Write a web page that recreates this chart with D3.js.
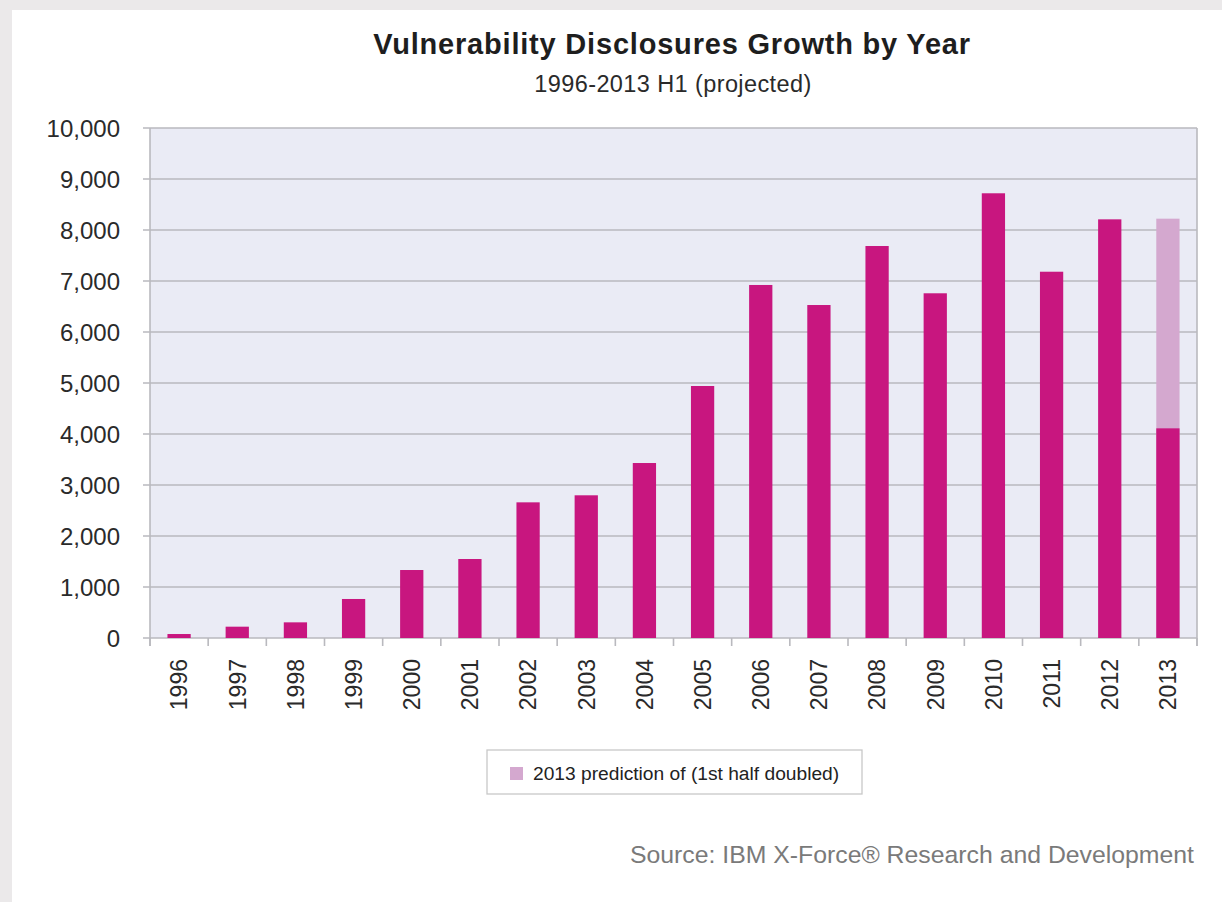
<!DOCTYPE html>
<html>
<head>
<meta charset="utf-8">
<script src="https://cdn.jsdelivr.net/npm/d3@7"></script>
<style>
  html, body { margin: 0; padding: 0; background: #ebe9ea; }
  svg { display: block; }
  text { font-family: "Liberation Sans", Arial, Helvetica, sans-serif; }
</style>
</head>
<body>
<svg id="chart" width="1222" height="902"></svg>
<script>
const years = ["1996","1997","1998","1999","2000","2001","2002","2003","2004","2005","2006","2007","2008","2009","2010","2011","2012","2013"];
const disclosures = [78, 222, 307, 765, 1333, 1549, 2660, 2798, 3431, 4941, 6922, 6529, 7686, 6759, 8720, 7182, 8209, 4111];
const projectedYears = ["2013"];
const projectedValues = [8222];
const yTicks = [0, 1000, 2000, 3000, 4000, 5000, 6000, 7000, 8000, 9000, 10000];
const titleText = "Vulnerability Disclosures Growth by Year";
const subtitleText = "1996-2013 H1 (projected)";
const legendText = "2013 prediction of (1st half doubled)";
const sourceText = "Source: IBM X-Force\u00AE Research and Development";

const svg = d3.select("#chart");
const W = 1222, H = 902;
const margin = { left: 150, right: 25, top: 128, bottom: 264 };
const plotL = margin.left, plotR = W - margin.right, plotT = margin.top, plotB = H - margin.bottom;

const barColor = "#c8167f";
const projColor = "#d4a8cf";
const gridColor = "#b9b9be";

// white panel
svg.append("rect").attr("x", 12).attr("y", 10).attr("width", W - 12).attr("height", H - 10).attr("fill", "#ffffff");

const x = d3.scaleBand().domain(years).range([plotL, plotR]).paddingInner(0.6).paddingOuter(0.3);
const y = d3.scaleLinear().domain([0, 10000]).range([plotB, plotT]);

// plot background
svg.append("rect").attr("x", plotL).attr("y", plotT).attr("width", plotR - plotL).attr("height", plotB - plotT).attr("fill", "#eaebf5");

// gridlines
svg.append("g").selectAll("line").data(yTicks).join("line")
  .attr("x1", plotL - 7).attr("x2", plotR)
  .attr("y1", d => y(d)).attr("y2", d => y(d))
  .attr("stroke", gridColor).attr("stroke-width", 1.6);

// y labels
svg.append("g").selectAll("text").data(yTicks).join("text")
  .attr("x", plotL - 30).attr("y", d => y(d)).attr("dy", "0.36em")
  .attr("text-anchor", "end").attr("font-size", 24).attr("fill", "#2a2a2a")
  .text(d => d3.format(",")(d));

// axis lines
svg.append("line").attr("x1", plotL).attr("x2", plotL).attr("y1", plotT).attr("y2", plotB + 8).attr("stroke", gridColor).attr("stroke-width", 1.6);
svg.append("line").attr("x1", plotR).attr("x2", plotR).attr("y1", plotT).attr("y2", plotB + 8).attr("stroke", gridColor).attr("stroke-width", 1.6);

// x ticks at category boundaries
const step = x.step();
const boundaries = years.map(d => x(d) + x.bandwidth() / 2 - step / 2).concat([x(years[years.length - 1]) + x.bandwidth() / 2 + step / 2]);
svg.append("g").selectAll("line").data(boundaries).join("line")
  .attr("x1", d => d).attr("x2", d => d)
  .attr("y1", plotB).attr("y2", plotB + 8)
  .attr("stroke", gridColor).attr("stroke-width", 1.6);

// projected bars (behind)
svg.append("g").selectAll("rect").data(projectedYears.map((d, i) => ({ year: d, v: projectedValues[i] }))).join("rect")
  .attr("x", d => x(d.year)).attr("width", x.bandwidth())
  .attr("y", d => y(d.v)).attr("height", d => y(0) - y(d.v))
  .attr("fill", projColor);

// bars
svg.append("g").selectAll("rect").data(years.map((d, i) => ({ year: d, v: disclosures[i] }))).join("rect")
  .attr("x", d => x(d.year)).attr("width", x.bandwidth())
  .attr("y", d => y(d.v)).attr("height", d => y(0) - y(d.v))
  .attr("fill", barColor);

// x labels
svg.append("g").selectAll("text").data(years).join("text")
  .attr("transform", d => `translate(${x(d) + x.bandwidth() / 2},${plotB + 21}) rotate(-90)`)
  .attr("dy", "0.36em").attr("text-anchor", "end")
  .attr("font-size", 23).attr("fill", "#2a2a2a")
  .text(d => d);

// title
svg.append("text").attr("x", 672).attr("y", 54).attr("text-anchor", "middle")
  .attr("font-size", 29).attr("font-weight", "bold").attr("fill", "#1e1e1e")
  .attr("letter-spacing", 0.8)
  .text(titleText);
svg.append("text").attr("x", 673).attr("y", 92).attr("text-anchor", "middle")
  .attr("font-size", 23.5).attr("fill", "#2a2a2a").attr("letter-spacing", 0.4)
  .text(subtitleText);

// legend
const lg = svg.append("g");
lg.append("rect").attr("x", 487).attr("y", 750).attr("width", 375).attr("height", 44)
  .attr("fill", "#ffffff").attr("stroke", "#c8c8c8").attr("stroke-width", 1.3);
lg.append("rect").attr("x", 510).attr("y", 767).attr("width", 13).attr("height", 13).attr("fill", projColor);
lg.append("text").attr("x", 533).attr("y", 773.5).attr("dy", "0.35em")
  .attr("font-size", 19.2).attr("fill", "#222")
  .text(legendText);

// source
svg.append("text").attr("x", 1194).attr("y", 863).attr("text-anchor", "end")
  .attr("font-size", 24.8).attr("fill", "#7a7a7a")
  .text(sourceText);
</script>
</body>
</html>
